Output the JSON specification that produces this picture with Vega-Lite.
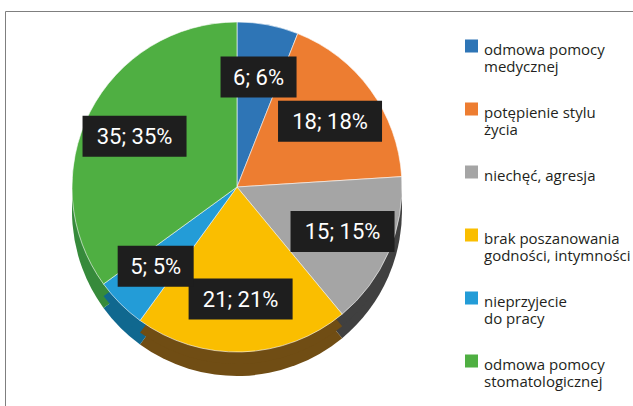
{
  "$schema": "https://vega.github.io/schema/vega-lite/v6.json",
  "width": 640,
  "height": 400,
  "autosize": {"type": "none"},
  "padding": {"left": 5, "top": 11, "right": 0, "bottom": 0},
  "background": "white",
  "config": {"view": {"stroke": "#7f7f7f", "strokeWidth": 1}},
  "data": {
    "values": [
      {"name": "odmowa pomocy\nmedycznej", "value": 6},
      {"name": "potępienie stylu\nżycia", "value": 18},
      {"name": "niechęć, agresja", "value": 15},
      {"name": "brak poszanowania\ngodności, intymności", "value": 21},
      {"name": "nieprzyjecie\ndo pracy", "value": 5},
      {"name": "odmowa pomocy\nstomatologicznej", "value": 35}
    ]
  },
  "transform": [
    {"window": [{"op": "row_number", "as": "i"}]},
    {"window": [{"op": "sum", "field": "value", "as": "cum"}], "sort": [{"field": "i", "order": "ascending"}], "frame": [null, 0]},
    {"joinaggregate": [{"op": "sum", "field": "value", "as": "total"}]},
    {"calculate": "(datum.cum - datum.value / 2) / datum.total * 2 * PI", "as": "mid"},
    {"calculate": "115 * sin(datum.mid)", "as": "lx"},
    {"calculate": "112 * cos(datum.mid)", "as": "ly"},
    {"calculate": "datum.value + '; ' + round(datum.value / datum.total * 100) + '%'", "as": "lab"}
  ],
  "layer": [
    {
      "mark": {"type": "arc", "outerRadius": 165, "yOffset": 24},
      "encoding": {
        "x": {"datum": 0, "type": "quantitative", "scale": {"domain": [-232, 408], "nice": false, "zero": false}, "axis": null},
        "y": {"datum": 0, "type": "quantitative", "scale": {"domain": [-224, 176], "nice": false, "zero": false}, "axis": null},
        "theta": {"field": "value", "type": "quantitative", "stack": true},
        "order": {"field": "i", "type": "quantitative"},
        "color": {"field": "name", "type": "nominal", "legend": null,
          "scale": {"domain": ["odmowa pomocy\nmedycznej", "potępienie stylu\nżycia", "niechęć, agresja", "brak poszanowania\ngodności, intymności", "nieprzyjecie\ndo pracy", "odmowa pomocy\nstomatologicznej"],
            "range": ["#1f4e79", "#9c4f1c", "#404040", "#704d14", "#10688f", "#368a3b"]}}
      }
    },
    {
      "mark": {"type": "arc", "outerRadius": 165, "yOffset": 12},
      "encoding": {
        "x": {"datum": 0, "type": "quantitative"},
        "y": {"datum": 0, "type": "quantitative"},
        "theta": {"field": "value", "type": "quantitative", "stack": true},
        "order": {"field": "i", "type": "quantitative"},
        "color": {"field": "name", "type": "nominal", "legend": null,
          "scale": {"domain": ["odmowa pomocy\nmedycznej", "potępienie stylu\nżycia", "niechęć, agresja", "brak poszanowania\ngodności, intymności", "nieprzyjecie\ndo pracy", "odmowa pomocy\nstomatologicznej"],
            "range": ["#1f4e79", "#9c4f1c", "#404040", "#704d14", "#10688f", "#368a3b"]}}
      }
    },
    {
      "mark": {"type": "arc", "outerRadius": 165, "stroke": "#ffffff", "strokeWidth": 0.6},
      "encoding": {
        "x": {"datum": 0, "type": "quantitative"},
        "y": {"datum": 0, "type": "quantitative"},
        "theta": {"field": "value", "type": "quantitative", "stack": true},
        "order": {"field": "i", "type": "quantitative"},
        "color": {"field": "name", "type": "nominal",
          "scale": {"domain": ["odmowa pomocy\nmedycznej", "potępienie stylu\nżycia", "niechęć, agresja", "brak poszanowania\ngodności, intymności", "nieprzyjecie\ndo pracy", "odmowa pomocy\nstomatologicznej"],
            "range": ["#2e75b6", "#ed7d31", "#a5a5a5", "#fabe00", "#239cd7", "#4faf42"]},
          "legend": {
            "title": null,
            "orient": "none",
            "legendX": 459,
            "legendY": 12,
            "symbolType": "M-1,-0.54H1V1.46H-1Z",
            "symbolSize": 169,
            "symbolStrokeWidth": 0,
            "labelFont": "Open Sans",
            "labelFontSize": 15,
            "labelColor": "#231f20",
            "labelBaseline": "top",
            "labelOffset": 5,
            "labelLimit": 300,
            "labelExpr": "indexof(datum.label, '\\n') < 0 ? [datum.label, ' '] : split(datum.label, '\\n')",
            "clipHeight": 40,
            "rowPadding": 11,
            "padding": 0
          }
        }
      }
    },
    {
      "mark": {"type": "point", "filled": true, "opacity": 1, "color": "#1e1e1e"},
      "encoding": {
        "x": {"field": "lx", "type": "quantitative"},
        "y": {"field": "ly", "type": "quantitative"},
        "shape": {"condition": {"test": "datum.value < 10", "value": "M-1,-0.54H1V0.54H-1Z"}, "value": "M-1,-0.394H1V0.394H-1Z"},
        "size": {"condition": {"test": "datum.value < 10", "value": 5776}, "value": 10816}
      }
    },
    {
      "mark": {"type": "text", "font": "Roboto", "fontSize": 22, "color": "#ffffff", "align": "center", "baseline": "middle", "dy": 1},
      "encoding": {
        "x": {"field": "lx", "type": "quantitative"},
        "y": {"field": "ly", "type": "quantitative"},
        "text": {"field": "lab", "type": "nominal"}
      }
    }
  ],
  "resolve": {"scale": {"color": "independent"}, "legend": {"color": "independent"}}
}
